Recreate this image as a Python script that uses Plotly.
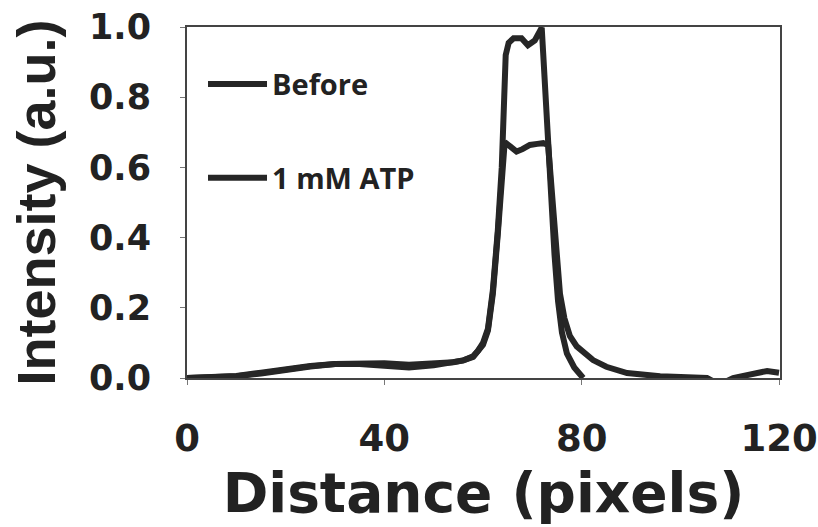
import plotly.graph_objects as go

# ---- data ----
before_x = [0, 5, 10, 15, 20, 25, 30, 35, 40, 45, 50, 54, 56, 58, 59, 60, 61, 62, 63, 63.8, 64.3, 64.6,
            65.2, 66.2, 67.8, 69.1, 70.5, 71.9, 72.2, 72.9, 73.9, 74.5, 75.2, 76.0, 77.0, 78.5, 80.3]
before_y = [0.0, 0.003, 0.006, 0.015, 0.026, 0.034, 0.040, 0.043, 0.042, 0.038, 0.040, 0.045, 0.050, 0.062,
            0.078, 0.100, 0.140, 0.250, 0.420, 0.600, 0.800, 0.920, 0.955, 0.968, 0.968, 0.948, 0.962,
            0.998, 0.925, 0.735, 0.507, 0.350, 0.220, 0.130, 0.070, 0.030, 0.0]

atp_x = [0, 5, 10, 15, 20, 25, 30, 35, 40, 45, 50, 54, 56, 58, 59, 60, 61, 62, 63, 63.8, 64.4, 65.5,
         66.8, 68, 69.5, 71, 72.2, 73.2, 73.7, 74.2, 74.8, 75.6, 76.5, 77.6, 79, 80.5, 82.3, 85, 89.2,
         95.9, 100, 105.4, 107, 109, 110.7, 114, 117.6, 120]
atp_y = [0.0, 0.002, 0.005, 0.013, 0.024, 0.033, 0.040, 0.040, 0.035, 0.030, 0.036, 0.043, 0.050, 0.060,
         0.075, 0.095, 0.135, 0.240, 0.410, 0.590, 0.672, 0.660, 0.645, 0.652, 0.664, 0.667, 0.669,
         0.664, 0.580, 0.507, 0.380, 0.240, 0.170, 0.120, 0.090, 0.070, 0.051, 0.032, 0.014, 0.005,
         0.002, 0.0, -0.012, -0.012, 0.0, 0.010, 0.020, 0.015]

series_names = ["Before", "1 mM ATP"]
x_tickvals = [0, 40, 80, 120]
x_ticktext = ["0", "40", "80", "120"]
y_tickvals = [0.0, 0.2, 0.4, 0.6, 0.8, 1.0]
y_ticktext = ["0.0", "0.2", "0.4", "0.6", "0.8", "1.0"]

LINE = "#262626"

fig = go.Figure()
fig.add_trace(go.Scatter(x=before_x, y=before_y, mode="lines", name=series_names[0],
                         legendgroup="a", line=dict(color=LINE, width=6)))
fig.add_trace(go.Scatter(x=atp_x, y=atp_y, mode="lines", name=series_names[1],
                         legendgroup="b", line=dict(color=LINE, width=6)))

fig.update_layout(
    width=818, height=527,
    margin=dict(l=187, r=38, t=27, b=149, autoexpand=False),
    paper_bgcolor="white", plot_bgcolor="white",
    showlegend=True,
    legend=dict(x=0.027, y=0.91, xanchor="left", yanchor="top",
                bgcolor="rgba(0,0,0,0)", traceorder="grouped", tracegroupgap=53,
                itemwidth=59,
                font=dict(family="Open Sans", size=29, color="#222", weight="bold")),
    xaxis=dict(range=[0, 120.2], tickvals=x_tickvals, ticktext=x_ticktext,
               showgrid=False, zeroline=False, showline=True, mirror=True,
               linecolor="#444", linewidth=2, ticks="outside", ticklen=5, tickcolor="#777",
               ticklabelstandoff=22,
               tickfont=dict(family="DejaVu Sans", size=37, color="#222", weight="bold"),
               title=dict(text="Distance (pixels)", standoff=14,
                          font=dict(family="DejaVu Sans", size=55, color="#222", weight="bold"))),
    yaxis=dict(range=[0, 1], tickvals=y_tickvals, ticktext=y_ticktext,
               showgrid=False, zeroline=False, showline=True, mirror=True,
               linecolor="#444", linewidth=2, ticks="outside", ticklen=5, tickcolor="#777",
               ticklabelstandoff=22,
               tickfont=dict(family="DejaVu Sans", size=35, color="#222", weight="bold"),
               title=dict(text="Intensity (a.u.)", standoff=16,
                          font=dict(family="Liberation Sans", size=54, color="#222", weight="bold"))),
)

fig.write_html("out.html")
